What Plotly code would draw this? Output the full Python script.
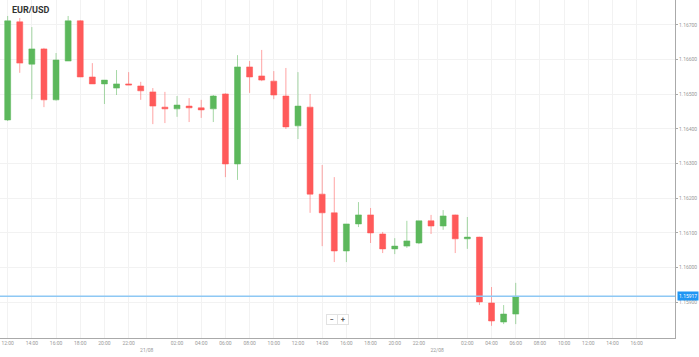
import pandas as pd
import plotly.graph_objects as go

# ---- data ----
times = pd.date_range("2018-08-20 12:00", periods=43, freq="h")
open_ = [1.16426, 1.16709, 1.16587, 1.16631, 1.16484, 1.16596, 1.16712, 1.16550, 1.16530, 1.16518,
         1.16530, 1.16524, 1.16507, 1.16463, 1.16458, 1.16466, 1.16461, 1.16458, 1.16501, 1.16299,
         1.16579, 1.16553, 1.16538, 1.16495, 1.16409, 1.16463, 1.16212, 1.16158, 1.16048, 1.16126,
         1.16152, 1.16097, 1.16054, 1.16062, 1.16071, 1.16135, 1.16120, 1.16152, 1.16083, 1.16088,
         1.15898, 1.15843, 1.15866]
high = [1.16726, 1.16720, 1.16694, 1.16634, 1.16619, 1.16726, 1.16714, 1.16590, 1.16541, 1.16570,
        1.16564, 1.16536, 1.16518, 1.16507, 1.16495, 1.16489, 1.16484, 1.16498, 1.16503, 1.16613,
        1.16596, 1.16628, 1.16567, 1.16576, 1.16564, 1.16501, 1.16296, 1.16261, 1.16126, 1.16189,
        1.16172, 1.16103, 1.16085, 1.16135, 1.16135, 1.16152, 1.16166, 1.16153, 1.16146, 1.16089,
        1.15944, 1.15892, 1.15956]
low = [1.16423, 1.16562, 1.16486, 1.16463, 1.16482, 1.16596, 1.16550, 1.16530, 1.16472, 1.16498,
       1.16527, 1.16484, 1.16414, 1.16417, 1.16435, 1.16420, 1.16432, 1.16420, 1.16261, 1.16253,
       1.16504, 1.16538, 1.16486, 1.16400, 1.16371, 1.16158, 1.16062, 1.16016, 1.16016, 1.16117,
       1.16071, 1.16042, 1.16039, 1.16057, 1.16068, 1.16097, 1.16109, 1.16042, 1.16054, 1.15892,
       1.15832, 1.15837, 1.15837]
close = [1.16712, 1.16590, 1.16631, 1.16484, 1.16599, 1.16712, 1.16550, 1.16530, 1.16541, 1.16530,
         1.16527, 1.16510, 1.16466, 1.16458, 1.16469, 1.16461, 1.16455, 1.16495, 1.16299, 1.16579,
         1.16550, 1.16541, 1.16498, 1.16406, 1.16466, 1.16212, 1.16158, 1.16048, 1.16126, 1.16152,
         1.16100, 1.16054, 1.16062, 1.16077, 1.16135, 1.16120, 1.16149, 1.16083, 1.16088, 1.15901,
         1.15846, 1.15866, 1.15917]
current_price = 1.15917
symbol = "EUR/USD"

y_ticks = [1.159, 1.160, 1.161, 1.162, 1.163, 1.164, 1.165, 1.166, 1.167]

x_tick_vals = []
x_tick_text = []
for day in ["2018-08-20", "2018-08-21", "2018-08-22"]:
    for h in range(0, 24, 2):
        t = pd.Timestamp(f"{day} {h:02d}:00")
        if t < pd.Timestamp("2018-08-20 12:00") or t > pd.Timestamp("2018-08-22 16:00"):
            continue
        if h == 0:
            d = t - pd.Timedelta(minutes=30)
            x_tick_vals.append(d)
            x_tick_text.append("\u00a0<br>" + t.strftime("%d/%m"))
        else:
            x_tick_vals.append(t)
            x_tick_text.append(t.strftime("%H:%M"))

GREEN = "#5cb85c"
RED = "#ff5a5a"

fig = go.Figure()
fig.add_trace(go.Candlestick(
    x=times, open=open_, high=high, low=low, close=close,
    increasing=dict(line=dict(color="rgba(92,184,92,0.55)", width=1), fillcolor=GREEN),
    decreasing=dict(line=dict(color="rgba(255,90,90,0.55)", width=1), fillcolor=RED),
    showlegend=False, hoverinfo="skip",
))

fig.add_hline(y=current_price, line=dict(color="#8ec8f4", width=1.5))

fig.add_annotation(x=1, xref="paper", y=current_price, yref="y", xanchor="left", yanchor="middle",
                   xshift=2, text=f"{current_price:.5f}", showarrow=False,
                   bgcolor="#2196f3", font=dict(color="white", size=5, family="Roboto"), borderpad=1)

fig.add_annotation(x=10 / 675, xref="paper", y=1 - 10 / 338, yref="paper", xanchor="left", yanchor="middle",
                   text=f"<b>{symbol}</b>", showarrow=False, font=dict(color="#333333", size=9, family="Roboto"))

# zoom buttons
for xp, txt in [(332 / 675, "−"), (343 / 675, "+")]:
    fig.add_annotation(x=xp, xref="paper", y=19 / 338, yref="paper", xanchor="center", yanchor="middle",
                       text=f"<b>{txt}</b>", showarrow=False, bgcolor="white", bordercolor="#e2e2e2",
                       borderwidth=1, borderpad=1, width=8, height=7,
                       font=dict(color="#555555", size=7, family="Roboto"))

fig.update_layout(
    width=699, height=357,
    margin=dict(l=0, r=24, t=0, b=19, autoexpand=False),
    paper_bgcolor="white", plot_bgcolor="white",
    font=dict(family="Roboto", color="#999999", size=5),
    xaxis=dict(
        type="date",
        range=["2018-08-20 11:22", "2018-08-22 19:10"],
        rangeslider=dict(visible=False),
        tickvals=x_tick_vals, ticktext=x_tick_text,
        showgrid=True, gridcolor="#f2f2f2", gridwidth=1,
        showline=True, linecolor="#aaaaaa", linewidth=1,
        ticks="", tickfont=dict(size=5, color="#999999"),
        zeroline=False, fixedrange=True,
    ),
    yaxis=dict(
        side="right",
        range=[1.157969, 1.167721],
        tickvals=y_ticks, tickformat=".5f",
        showgrid=True, gridcolor="#f2f2f2", gridwidth=1,
        showline=True, linecolor="#aaaaaa", linewidth=1,
        ticks="outside", ticklen=2, tickcolor="#aaaaaa",
        tickfont=dict(size=5, color="#999999"),
        zeroline=False, fixedrange=True,
    ),
)

fig.write_html(
    "out.html",
    config={"displayModeBar": False},
    post_script="document.body.style.margin='0';document.body.style.overflow='hidden';",
)
